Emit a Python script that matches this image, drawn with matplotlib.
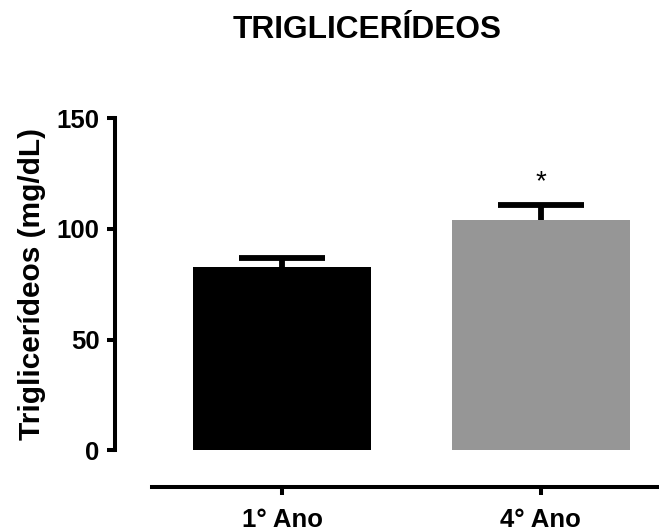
import matplotlib.pyplot as plt

# dados
grupos = ['1° Ano', '4° Ano']
medias = [83, 104]
erros = [4, 7]
cores = ['black', '#969696']

plt.rcParams['font.family'] = ['Liberation Sans', 'DejaVu Sans']
plt.rcParams['font.weight'] = 'bold'

fig = plt.figure(figsize=(6.59, 5.32), dpi=100)
ax = fig.add_axes([0.1745, 0.1532, 1 - 0.1745, 0.778 - 0.1532])

x = list(range(len(grupos)))
ax.bar(x, medias, width=0.687, color=cores, linewidth=0, zorder=2)

# barras de erro so para cima (estilo Prism)
topos = [m + e for m, e in zip(medias, erros)]
ax.vlines(x, medias, topos, color='black', linewidth=4.2, zorder=3)
ax.hlines(topos, [i - 0.165 for i in x], [i + 0.165 for i in x], color='black',
          linewidth=4.2, zorder=3)

# asterisco sobre o 4o ano
ax.text(1, topos[1] + 10, '*', ha='center', va='center', fontsize=20, fontweight='normal')

ax.set_xlim(-0.645, 1.456)
ax.set_ylim(0, 150)
ax.set_yticks([0, 50, 100, 150])
ax.set_xticks(x)
ax.set_xticklabels(grupos)

for s in ['top', 'right']:
    ax.spines[s].set_visible(False)
ax.spines['left'].set_linewidth(2.9)
ax.spines['bottom'].set_linewidth(2.9)
ax.spines['bottom'].set_position(('outward', 26.6))
ax.spines['bottom'].set_bounds(-0.502, 1.6)
ax.spines['left'].set_capstyle('projecting')

ax.tick_params(axis='both', width=2.9, length=6, labelsize=18.5)
ax.tick_params(axis='y', pad=5)
ax.tick_params(axis='x', pad=9)

ax.set_ylabel('Triglicerídeos (mg/dL)', fontsize=21.5, fontweight='bold', labelpad=8)
fig.text(367.5 / 659, 1 - 37.7 / 532, 'TRIGLICERÍDEOS', ha='center', va='baseline',
         fontsize=22.8, fontweight='bold')

plt.savefig('out.png', dpi=100)
